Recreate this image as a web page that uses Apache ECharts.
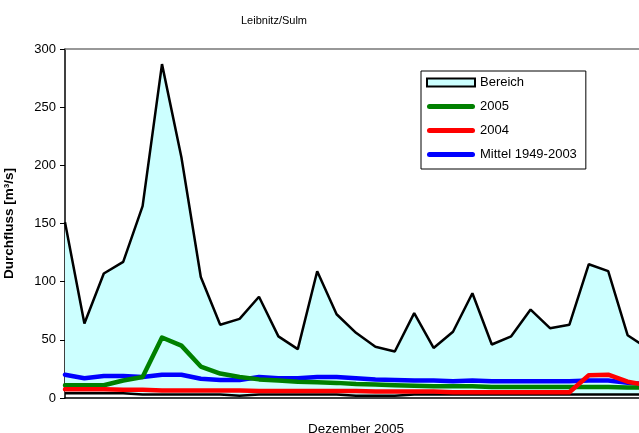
<!DOCTYPE html>
<html lang="de">
<head>
    <meta charset="UTF-8">
    <title>Leibnitz/Sulm</title>
    <script src="https://cdn.jsdelivr.net/npm/echarts@6/dist/echarts.min.js"></script>
    <style>
        html, body { margin: 0; padding: 0; background: #fff; }
    </style>
</head>
<body>
<div id="main" style="width: 639px;height:433px;"></div>
<script type="text/javascript">
    // Tage im Dezember 2005
    var days = [];
    for (var d = 1; d <= 31; d++) { days.push(String(d)); }

    // Bereich: Maximum / Minimum 1949-2003
    var maxValues = [151, 64, 107, 117, 165, 287, 207, 104, 63, 68, 87, 53, 42, 109, 72, 56,
                     44, 40, 73, 43, 57, 90, 46, 53, 76, 60, 63, 115, 109, 54, 43];
    var minValues = [4, 4, 4, 4, 3, 3, 3, 3, 3, 2, 3, 3, 3, 3, 3, 2,
                     2, 2, 3, 3, 3, 3, 3, 3, 3, 3, 3, 3, 3, 3, 3];
    var values2005 = [11, 11, 11, 15, 18, 52, 45, 27, 21, 18, 16, 15, 14, 13.5, 13, 12,
                      11.5, 11, 10.5, 10, 10, 10, 9.5, 9.5, 9.5, 9.5, 9.5, 9.5, 9.5, 9, 9];
    var values2004 = [7.5, 7.5, 7.5, 7, 7, 6.5, 6.5, 6.5, 6.5, 6.5, 6, 6, 6, 6, 6, 6,
                      5.5, 5.5, 5.5, 5.5, 5, 5, 5, 5, 5, 5, 5, 19.5, 20, 14, 11];
    var valuesMean = [20, 17, 19, 19, 18, 20, 20, 16.5, 15.5, 15.5, 18, 17, 17, 18, 18, 17,
                      16, 15.5, 15, 15, 14.5, 15, 14.5, 14.5, 14.5, 14.5, 14.5, 15, 15, 13, 12];
    var yTicks = [0, 50, 100, 150, 200, 250, 300];

    // Spanne für die gestapelte Fläche
    var rangeValues = maxValues.map(function (v, i) { return v - minValues[i]; });

    var font = 'Liberation Sans, Arial, sans-serif';
    // dicker Strich als Legendensymbol
    var barIcon = 'path://M2.5,0 L45.5,0 A2.5,2.5 0 0 1 45.5,5 L2.5,5 A2.5,2.5 0 0 1 2.5,0 Z';

    var myChart = echarts.init(document.getElementById('main'));
    var option = {
        animation: false,
        textStyle: { fontFamily: font },
        title: {
            text: 'Leibnitz/Sulm',
            left: 269, top: 10, textAlign: 'center',
            textStyle: { fontSize: 11, fontWeight: 'normal', color: '#000', fontFamily: font }
        },
        legend: {
            orient: 'vertical',
            left: 421, top: 71,
            padding: [5, 9, 8, 5],
            itemGap: 11,
            itemWidth: 48,
            itemHeight: 8,
            borderColor: '#000',
            borderWidth: 1,
            backgroundColor: '#fff',
            textStyle: { fontSize: 13, color: '#000', fontFamily: font },
            data: [
                { name: 'Bereich', icon: 'rect',
                  itemStyle: { color: '#CCFFFF', borderColor: '#000', borderWidth: 2 } },
                { name: '2005', icon: barIcon },
                { name: '2004', icon: barIcon },
                { name: 'Mittel 1949-2003', icon: barIcon }
            ]
        },
        grid: { left: 65, top: 49, width: 582, height: 349, outerBoundsMode: 'none' },
        xAxis: [{
            type: 'category',
            data: days,
            boundaryGap: false,
            name: 'Dezember 2005',
            nameLocation: 'middle',
            nameGap: 24,
            nameTextStyle: { fontSize: 13.5, color: '#000', fontFamily: font },
            axisLine: { lineStyle: { color: '#000', width: 1.5 } },
            axisTick: { show: false },
            axisLabel: { show: false }
        }, {
            type: 'category',
            data: days,
            position: 'top',
            boundaryGap: false,
            axisLine: { lineStyle: { color: '#777', width: 1.5 } },
            axisTick: { show: false },
            axisLabel: { show: false }
        }],
        yAxis: {
            type: 'value',
            min: yTicks[0],
            max: yTicks[yTicks.length - 1],
            interval: 50,
            name: 'Durchfluss [m³/s]',
            nameLocation: 'middle',
            nameGap: 49,
            nameTextStyle: { fontSize: 13.5, fontWeight: 'bold', color: '#000', fontFamily: font },
            axisLine: { show: true, lineStyle: { color: '#000', width: 1.5 } },
            axisTick: { show: true, length: 5, lineStyle: { color: '#000' } },
            axisLabel: { fontSize: 13, color: '#000', margin: 9, fontFamily: font },
            splitLine: { show: false }
        },
        series: [
            {
                name: 'Minimum',
                type: 'line',
                stack: 'bereich',
                data: minValues,
                symbol: 'none',
                lineStyle: { color: '#000', width: 2.5 },
                itemStyle: { color: '#000' }
            },
            {
                name: 'Bereich',
                type: 'line',
                stack: 'bereich',
                data: rangeValues,
                symbol: 'none',
                lineStyle: { color: '#000', width: 2.5 },
                itemStyle: { color: '#CCFFFF' },
                areaStyle: { color: '#CCFFFF', opacity: 1 }
            },
            {
                name: 'Mittel 1949-2003',
                type: 'line',
                data: valuesMean,
                symbol: 'none',
                lineStyle: { color: '#0000FF', width: 4.5, cap: 'round', join: 'round' },
                itemStyle: { color: '#0000FF' }
            },
            {
                name: '2005',
                type: 'line',
                data: values2005,
                symbol: 'none',
                lineStyle: { color: '#008000', width: 4.5, cap: 'round', join: 'round' },
                itemStyle: { color: '#008000' }
            },
            {
                name: '2004',
                type: 'line',
                data: values2004,
                symbol: 'none',
                lineStyle: { color: '#FF0000', width: 4.5, cap: 'round', join: 'round' },
                itemStyle: { color: '#FF0000' }
            }
        ]
    };
    myChart.setOption(option);
</script>
</body>
</html>
